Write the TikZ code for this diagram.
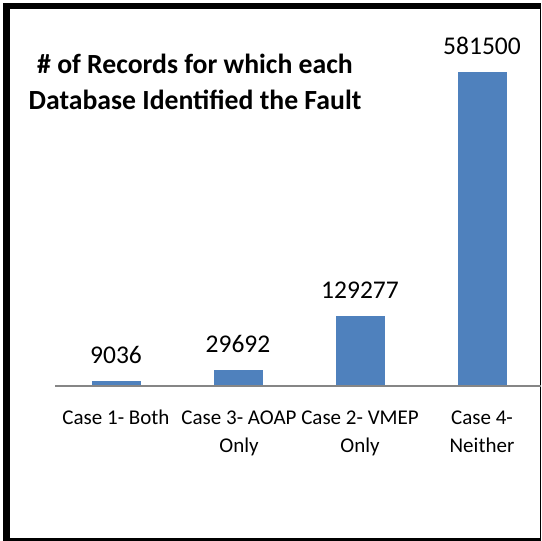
\documentclass[tikz,border=0pt]{standalone}
\usepackage{fontspec}
\setmainfont{Carlito}
\usepackage{xcolor}
\usetikzlibrary{positioning}
\definecolor{barblue}{HTML}{4F81BD}
\definecolor{axisgray}{HTML}{868686}

\begin{document}
\begin{tikzpicture}[
                  x=1pt, y=-1pt,
                  bar/.style={
                              draw=none, fill=barblue, minimum width=49pt,
                              inner sep=0pt, anchor=south
                        },
                  val/.style={font=\fontsize{25.5}{30}\selectfont, inner sep=0pt, anchor=base},
                  cat/.style={font=\fontsize{21}{28}\selectfont, align=center, inner sep=0pt, anchor=base},
                  axis/.style={draw=axisgray, line width=1.5pt},
                  frame/.style={draw=black},
            ]
            \useasboundingbox (0,0) rectangle (542,541);

            % Frame
            \coordinate (tl) at (3,3);
            \coordinate (tr) at (541,3);
            \coordinate (bl) at (3,541);
            \coordinate (br) at (541,541);
            \draw[frame, line width=7pt] ([xshift=3.5pt]bl) -- ([xshift=3.5pt]tl);
            \draw[frame, line width=6pt] ([yshift=-3pt]tl) -- ([yshift=-3pt]tr);
            \draw[frame, line width=3pt] ([yshift=1.5pt]bl) -- ([yshift=1.5pt]br);
            \draw[frame, line width=1.5pt] ([xshift=-0.75pt]tr) -- ([xshift=-0.75pt]br);

            % Title (base = last line)
            \node[font=\bfseries\fontsize{27.7}{36}\selectfont, align=center, inner sep=0pt, anchor=base]
                  (title) at (195,109) {\# of Records for which each\\Database Identified the Fault};

            % Bars
            \node[bar, minimum height=4.9pt]   (both)    at (116,386) {};
            \node[bar, minimum height=16pt]    (aoap)    at (238,386) {};
            \node[bar, minimum height=69.8pt]  (vmep)    at (360,386) {};
            \node[bar, minimum height=314pt]   (neither) at (482,386) {};

            % Values
            \node[val] (vboth)    at ([yshift=17pt]both.north)    {9036};
            \node[val] (vaoap)    at ([yshift=17pt]aoap.north)    {29692};
            \node[val] (vvmep)    at ([yshift=17pt]vmep.north)    {129277};
            \node[val] (vneither) at ([yshift=17pt]neither.north) {581500};

            % Axis
            \coordinate (axl) at (55,386);
            \coordinate (axr) at (541,386);
            \draw[axis] (axl) -- (axr);

            % Categories
            \node[cat] (cboth)    at (116,424) {Case 1- Both};
            \node[cat] (caoap)    at (239,452) {Case 3- AOAP\\Only};
            \node[cat] (cvmep)    at (360,452) {Case 2- VMEP\\Only};
            \node[cat] (cneither) at (482,452) {Case 4-\\Neither};
      \end{tikzpicture}
\end{document}
